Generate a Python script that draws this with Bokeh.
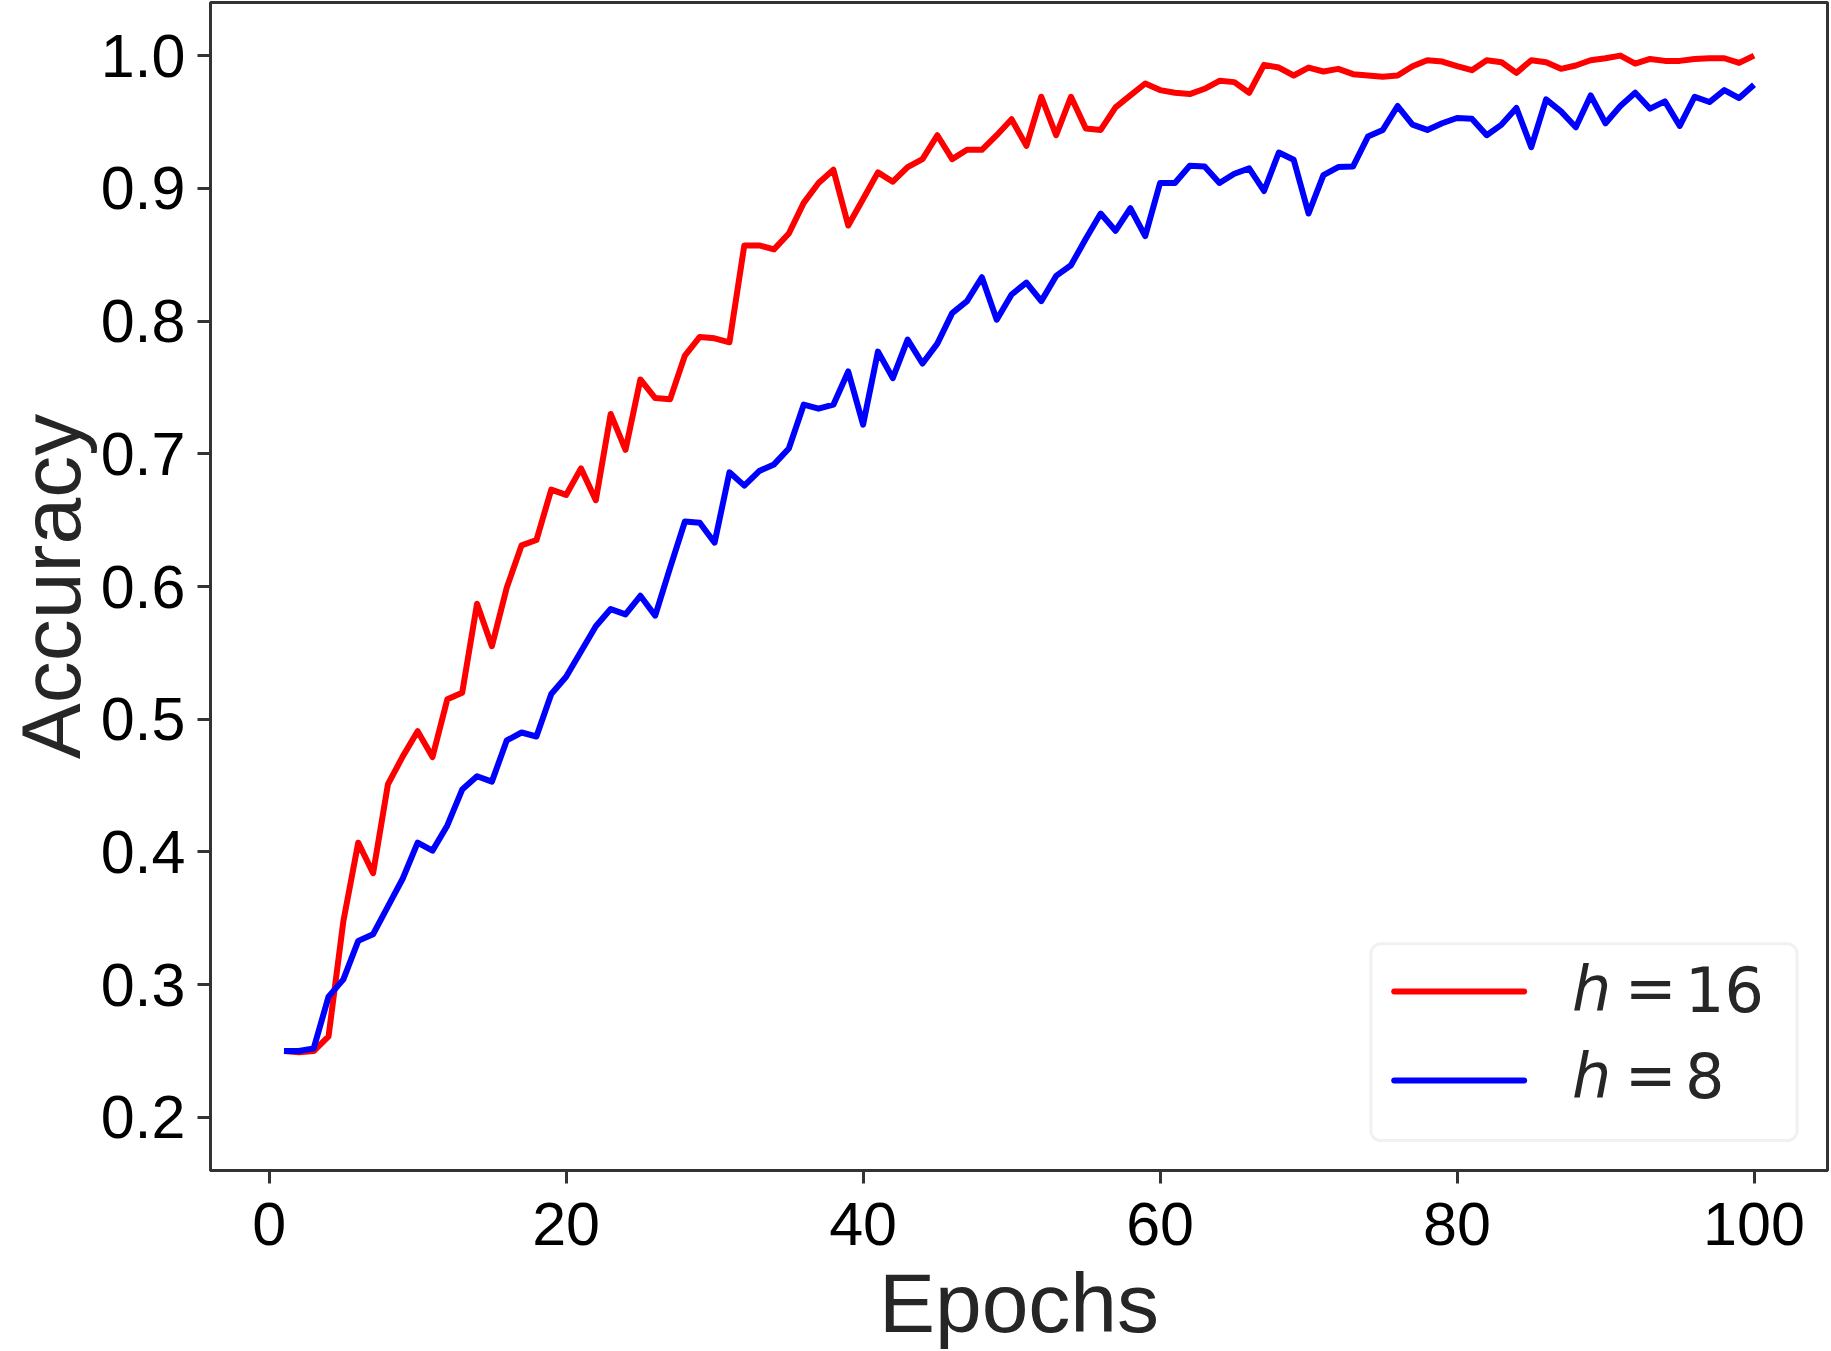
from bokeh.plotting import figure
from bokeh.models import Range1d, FixedTicker, NumeralTickFormatter, BoxAnnotation, Label
from bokeh.embed import file_html
from bokeh.resources import INLINE

epochs = list(range(1, 101))

acc_h16 = [0.250, 0.249, 0.250, 0.261, 0.348, 0.407, 0.384, 0.451, 0.472, 0.491,
           0.4715, 0.515, 0.520, 0.587, 0.555, 0.599, 0.631, 0.635, 0.673, 0.669,
           0.689, 0.665, 0.730, 0.703, 0.756, 0.742, 0.741, 0.774, 0.788, 0.787,
           0.784, 0.857, 0.857, 0.854, 0.866, 0.889, 0.904, 0.914, 0.872, 0.892,
           0.912, 0.905, 0.916, 0.922, 0.940, 0.922, 0.929, 0.929, 0.940, 0.952,
           0.932, 0.969, 0.940, 0.969, 0.945, 0.944, 0.961, 0.970, 0.979, 0.974,
           0.972, 0.971, 0.975, 0.981, 0.980, 0.972, 0.993, 0.991, 0.985, 0.991,
           0.988, 0.990, 0.986, 0.985, 0.984, 0.985, 0.992, 0.9965, 0.9955, 0.992,
           0.989, 0.9965, 0.995, 0.987, 0.9965, 0.995, 0.990, 0.9925, 0.9965, 0.998,
           1.000, 0.994, 0.9975, 0.996, 0.996, 0.9975, 0.998, 0.998, 0.9945, 1.000]

acc_h8 = [0.250, 0.250, 0.252, 0.291, 0.304, 0.333, 0.338, 0.359, 0.380, 0.407,
          0.401, 0.420, 0.447, 0.457, 0.453, 0.484, 0.490, 0.487, 0.519, 0.532,
          0.551, 0.570, 0.583, 0.579, 0.593, 0.578, 0.614, 0.649, 0.648, 0.633,
          0.686, 0.676, 0.687, 0.692, 0.704, 0.737, 0.734, 0.737, 0.762, 0.722,
          0.777, 0.757, 0.786, 0.768, 0.783, 0.806, 0.815, 0.833, 0.801, 0.820,
          0.829, 0.815, 0.834, 0.842, 0.862, 0.881, 0.868, 0.885, 0.864, 0.904,
          0.904, 0.917, 0.9165, 0.904, 0.911, 0.915, 0.898, 0.927, 0.9215, 0.881,
          0.910, 0.916, 0.9165, 0.939, 0.944, 0.962, 0.948, 0.944, 0.949, 0.953,
          0.9525, 0.940, 0.948, 0.9605, 0.931, 0.967, 0.958, 0.946, 0.970, 0.949,
          0.962, 0.972, 0.960, 0.9655, 0.947, 0.969, 0.965, 0.974, 0.968, 0.978]

x_ticks = [0, 20, 40, 60, 80, 100]
y_ticks = [0.2, 0.3, 0.4, 0.5, 0.6, 0.7, 0.8, 0.9, 1.0]
series_labels = ["16", "8"]
series_colors = ["#ff0000", "#0000ff"]
x_title = "Epochs"
y_title = "Accuracy"

p = figure(frame_width=1617, frame_height=1168,
           x_range=Range1d(-3.95, 104.95), y_range=Range1d(0.16, 1.04),
           output_backend="svg", toolbar_location=None,
           min_border_left=210, min_border_right=4,
           min_border_top=2, min_border_bottom=181)

p.background_fill_color = "white"
p.border_fill_color = "white"
p.grid.visible = False
p.outline_line_color = "#333333"
p.outline_line_width = 3

for ax in (p.xaxis[0], p.yaxis[0]):
    ax.axis_line_color = "#333333"
    ax.axis_line_width = 3
    ax.major_tick_line_color = "#333333"
    ax.major_tick_line_width = 3
    ax.major_tick_out = 13
    ax.major_tick_in = 0
    ax.minor_tick_line_color = None
    ax.major_label_text_font = "Liberation Sans"
    ax.major_label_text_font_size = "61px"
    ax.major_label_text_color = "#000000"
    ax.axis_label_text_font = "Liberation Sans"
    ax.axis_label_text_font_style = "normal"
    ax.axis_label_text_font_size = "84px"
    ax.axis_label_text_color = "#262626"

p.xaxis.ticker = FixedTicker(ticks=x_ticks)
p.yaxis.ticker = FixedTicker(ticks=y_ticks)
p.xaxis.formatter = NumeralTickFormatter(format="0")
p.yaxis.formatter = NumeralTickFormatter(format="0.0")
p.xaxis.axis_label = x_title
p.yaxis.axis_label = y_title
p.xaxis.major_label_standoff = 19
p.yaxis.major_label_standoff = 12
p.xaxis.axis_label_standoff = 8
p.yaxis.axis_label_standoff = 0

p.line(epochs, acc_h16, line_color=series_colors[0], line_width=6, line_join="round")
p.line(epochs, acc_h8, line_color=series_colors[1], line_width=6, line_join="round")

# legend (drawn by hand so that "h" can be italic)
LEG_LEFT, LEG_RIGHT, LEG_BOTTOM, LEG_TOP = 74.2, 102.9, 0.1826, 0.3308
LEG_LINE_X0, LEG_LINE_X1 = 75.77, 84.52
LEG_LINE_Y = [0.2949, 0.2278]
LEG_X_H, LEG_X_EQ, LEG_X_NUM = 87.75, 91.3, 95.35
LEG_TEXT_Y = [0.2971, 0.2318]

box = BoxAnnotation(left=LEG_LEFT, right=LEG_RIGHT, bottom=LEG_BOTTOM, top=LEG_TOP,
                    fill_color="white", fill_alpha=0.8, line_color="#d0d0d0",
                    line_width=3, border_radius=10, level="underlay")
p.add_layout(box)

for i in range(2):
    p.line([LEG_LINE_X0, LEG_LINE_X1], [LEG_LINE_Y[i], LEG_LINE_Y[i]],
           line_color=series_colors[i], line_width=6, line_cap="round")
    p.add_layout(Label(x=LEG_X_H, y=LEG_TEXT_Y[i], text="h",
                       text_font="DejaVu Sans", text_font_style="italic",
                       text_font_size="62px", text_color="#262626",
                       text_baseline="alphabetic"))
    p.add_layout(Label(x=LEG_X_EQ, y=LEG_TEXT_Y[i], text="=",
                       text_font="DejaVu Sans", text_font_size="62px",
                       text_color="#262626", text_baseline="alphabetic"))
    p.add_layout(Label(x=LEG_X_NUM, y=LEG_TEXT_Y[i], text=series_labels[i],
                       text_font="DejaVu Sans", text_font_size="62px",
                       text_color="#262626", text_baseline="alphabetic"))

open("out.html", "w").write(file_html(p, INLINE))
